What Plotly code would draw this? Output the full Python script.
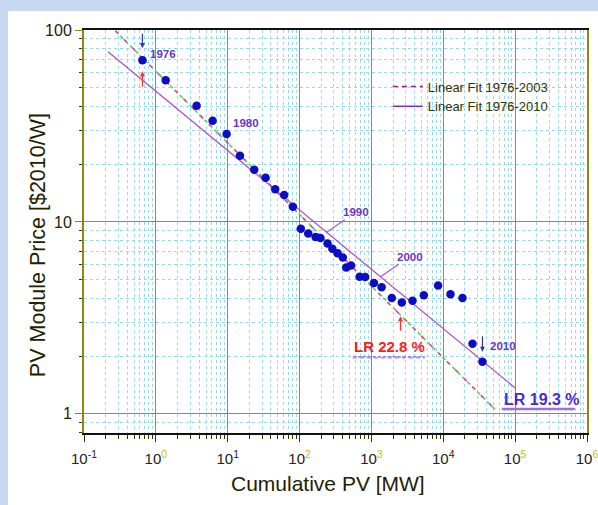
import numpy as np
import plotly.graph_objects as go

# cumulative installed PV [MW] and module price [$2010/W]
cum_pv = [0.65, 1.37, 3.69, 6.17, 9.66, 14.8, 23.4, 33.7, 45.8, 61.1, 80.7,
          104, 132, 167, 195, 245, 286, 338, 400, 446, 520, 685, 818, 1085,
          1385, 1923, 2648, 3730, 5355, 8470, 12600, 18500, 25500, 35100]
price = [69.5, 54.7, 40.3, 33.7, 28.7, 22.1, 18.7, 17.0, 14.8, 13.8, 12.0,
         9.2, 8.7, 8.35, 8.25, 7.72, 7.24, 6.86, 6.52, 5.79, 5.93, 5.18, 5.16, 4.80,
         4.56, 4.01, 3.80, 3.88, 4.15, 4.66, 4.20, 4.01, 2.32, 1.87]

# fitted experience curves: learning rate, price at 1 MW, x extent
fit_names = ["Linear Fit 1976-2003", "Linear Fit 1976-2010"]
fit_lr = [22.8, 19.3]
fit_p1 = [61.0, 48.0]
fit_x0 = [0.273, 0.216]
fit_x1 = [52000, 100000]

year_labels = ["1976", "1980", "1990", "2000", "2010"]

x_ticks = [0.1, 1, 10, 100, 1e3, 1e4, 1e5, 1e6]
x_exp = ["-1", "0", "1", "2", "3", "4", "5", "6"]
y_ticks = [1, 10, 100]
y_ticktext = ["1", "10", "100"]

FONT = "Liberation Sans, Arial, sans-serif"
OLIVE = "#8a8a10"
PURPLE = "#6a35c8"
LINE_PURPLE = "#b050c8"
MAJOR_GRID = "#6f84dc"
MINOR_GRID = "#9ad8ee"


def fit_curve(i, xs):
    b = -np.log2(1 - fit_lr[i] / 100.0)
    return fit_p1[i] * np.power(xs, -b)


fig = go.Figure()

# 1976-2003 fit: green line with pink dashes on top
xs0 = np.logspace(np.log10(fit_x0[0]), np.log10(fit_x1[0]), 60)
fig.add_trace(go.Scatter(x=xs0, y=fit_curve(0, xs0), mode="lines",
                         line=dict(color="#44dd44", width=1.5, dash="4px,3px"),
                         showlegend=False, hoverinfo="skip"))
fig.add_trace(go.Scatter(x=xs0, y=fit_curve(0, xs0), mode="lines",
                         line=dict(color="#ff3399", width=1.5, dash="4px,8px"),
                         showlegend=False, hoverinfo="skip"))
xs1 = np.logspace(np.log10(fit_x0[1]), np.log10(fit_x1[1]), 60)
fig.add_trace(go.Scatter(x=xs1, y=fit_curve(1, xs1), mode="lines",
                         line=dict(color=LINE_PURPLE, width=1.3),
                         showlegend=False, hoverinfo="skip"))

# legend entries
fig.add_trace(go.Scatter(x=[None], y=[None], mode="lines", name=fit_names[0],
                         line=dict(color="#b0108a", width=1.5, dash="5px,4px")))
fig.add_trace(go.Scatter(x=[None], y=[None], mode="lines", name=fit_names[1],
                         line=dict(color="#7a30c8", width=1.5)))

fig.add_trace(go.Scatter(x=cum_pv, y=price, mode="markers",
                         marker=dict(color="#0c0cc4", size=8.5),
                         showlegend=False))

lx = np.log10(cum_pv)
ly = np.log10(price)
YEAR_FONT = dict(color=PURPLE, size=11.5, family=FONT)
ann = []
# 1976 label with blue and red arrows
ann.append(dict(x=lx[0], y=ly[0], text="<b>%s</b>" % year_labels[0], showarrow=False,
                xanchor="left", xshift=6, yshift=6, font=YEAR_FONT))
ann.append(dict(x=lx[0], y=ly[0], text="", showarrow=True, ax=0, ay=-28,
                standoff=12, arrowhead=2, arrowsize=0.8, arrowwidth=1.3,
                arrowcolor="#3535c8"))
ann.append(dict(x=lx[0], y=ly[0], text="", showarrow=True, ax=0, ay=28,
                standoff=11, arrowhead=2, arrowsize=0.8, arrowwidth=1.3,
                arrowcolor="#ff3030"))
ann.append(dict(x=lx[4], y=ly[4], text="<b>%s</b>" % year_labels[1], showarrow=False,
                xanchor="left", xshift=4, yshift=11, font=YEAR_FONT))
# 1990 / 2000 labels connected to the 1976-2010 fit line
for lab, xv in [(year_labels[2], 238.0), (year_labels[3], 1340.0)]:
    ann.append(dict(x=np.log10(xv), y=np.log10(fit_curve(1, xv)), text="<b>%s</b>" % lab,
                    showarrow=True, ax=29, ay=-20, arrowhead=0,
                    arrowwidth=1.1, arrowcolor=LINE_PURPLE, font=YEAR_FONT))
# 2010
ann.append(dict(x=lx[-1], y=ly[-1], text="<b>%s</b>" % year_labels[4], showarrow=False,
                xanchor="left", xshift=6, yshift=16, font=YEAR_FONT))
ann.append(dict(x=lx[-1], y=ly[-1], text="", showarrow=True, ax=0, ay=-27,
                standoff=10, arrowhead=2, arrowsize=0.8, arrowwidth=1.2,
                arrowcolor="#3030a0"))
# learning rate labels
lr_arrow_x = 2540.0
ann.append(dict(x=np.log10(lr_arrow_x), y=np.log10(fit_curve(0, lr_arrow_x)),
                text="", showarrow=True, ax=0, ay=17, standoff=1, arrowhead=2,
                arrowsize=0.8, arrowwidth=1.3, arrowcolor="#ff3030"))
lr_pos = [(3.256, 0.3505), (5.377, 0.073)]
lr_col = ["#ff1a1a", "#4a2ad0"]
lr_size = [15, 16]
for i in range(2):
    ann.append(dict(x=lr_pos[i][0], y=lr_pos[i][1],
                    text="<b>LR %.1f %%</b>" % fit_lr[i], showarrow=False,
                    font=dict(color=lr_col[i], size=lr_size[i])))

# underlines below the LR labels
fig.add_trace(go.Scatter(x=[10 ** 2.741, 10 ** 3.743], y=[10 ** 0.297] * 2,
                         mode="lines", line=dict(color="#6a6ae0", width=1.3, dash="3px,2px"),
                         showlegend=False, hoverinfo="skip"))
fig.add_trace(go.Scatter(x=[10 ** 2.741, 10 ** 3.743], y=[10 ** 0.292] * 2,
                         mode="lines", line=dict(color="#ff70b0", width=1.3, dash="4px,3px"),
                         showlegend=False, hoverinfo="skip"))
fig.add_trace(go.Scatter(x=[10 ** 4.814, 10 ** 5.829], y=[10 ** 0.0245] * 2,
                         mode="lines", line=dict(color="#a070d8", width=2.5),
                         showlegend=False, hoverinfo="skip"))

# axis titles
ann.append(dict(xref="paper", yref="paper", x=0.486, y=-0.159,
                text="Cumulative PV [MW]", showarrow=False,
                font=dict(size=21, color="#222200")))
ann.append(dict(xref="paper", yref="paper", x=-0.119, y=0.4665,
                text="PV Module Price [$2010/W]", showarrow=False, textangle=-90,
                font=dict(size=21.5, color="#222200")))

x_ticktext = []
for e in x_exp:
    c = "#c8c000" if e in ("0", "2", "3", "5", "6") else "#222222"
    x_ticktext.append("10<sup><span style='color:%s'>%s</span></sup>" % (c, e))

minor_x = [m * 10.0 ** k for k in range(-1, 6) for m in range(2, 10)]
minor_y = [m * 10.0 ** k for k in range(-1, 2) for m in range(2, 10)]

fig.update_layout(
    width=598, height=505,
    margin=dict(l=84, r=11, t=30, b=72),
    paper_bgcolor="#c6d9f1",
    plot_bgcolor="white",
    font=dict(family=FONT, color="#222200"),
    shapes=[dict(type="rect", xref="paper", yref="paper", layer="below",
                 x0=(8 - 84) / 503, x1=1.03, y0=-0.2, y1=(433 - 11) / 403,
                 fillcolor="white", line=dict(width=0))],
    annotations=ann,
    legend=dict(x=0.604, y=0.897, xanchor="left", yanchor="top",
                bgcolor="rgba(0,0,0,0)", font=dict(size=13, color="#333300"),
                tracegroupgap=0, itemwidth=30),
    xaxis=dict(type="log", range=[-1, 6], tickmode="array", tickvals=x_ticks,
               ticktext=x_ticktext, tickfont=dict(size=15, color="#222222"),
               automargin=False, ticklabeloverflow="allow", ticklabelstandoff=4,
               showline=True, linecolor="#111111", linewidth=2, mirror=True,
               ticks="outside", ticklen=7, tickcolor="#333300",
               showgrid=True, gridcolor=MAJOR_GRID, gridwidth=1.2, zeroline=False,
               minor=dict(tickmode="array", tickvals=minor_x, ticks="outside",
                          ticklen=4, tickcolor="#333300", showgrid=True,
                          gridcolor=MINOR_GRID, griddash="dot", gridwidth=1)),
    yaxis=dict(type="log", range=[-0.1, 2], tickmode="array", tickvals=y_ticks,
               ticktext=y_ticktext, tickfont=dict(size=16, color="#222200"),
               automargin=False,
               showline=True, linecolor=OLIVE, linewidth=2, mirror=True,
               ticks="outside", ticklen=7, tickcolor=OLIVE,
               showgrid=True, gridcolor=MAJOR_GRID, gridwidth=1.2, zeroline=False,
               minor=dict(tickmode="array", tickvals=minor_y, ticks="outside",
                          ticklen=3, tickcolor="#333300", showgrid=True,
                          gridcolor=MINOR_GRID, griddash="dot", gridwidth=1)),
)

fig.write_html("out.html", config={"displayModeBar": False},
               post_script="document.body.style.margin='0';")
